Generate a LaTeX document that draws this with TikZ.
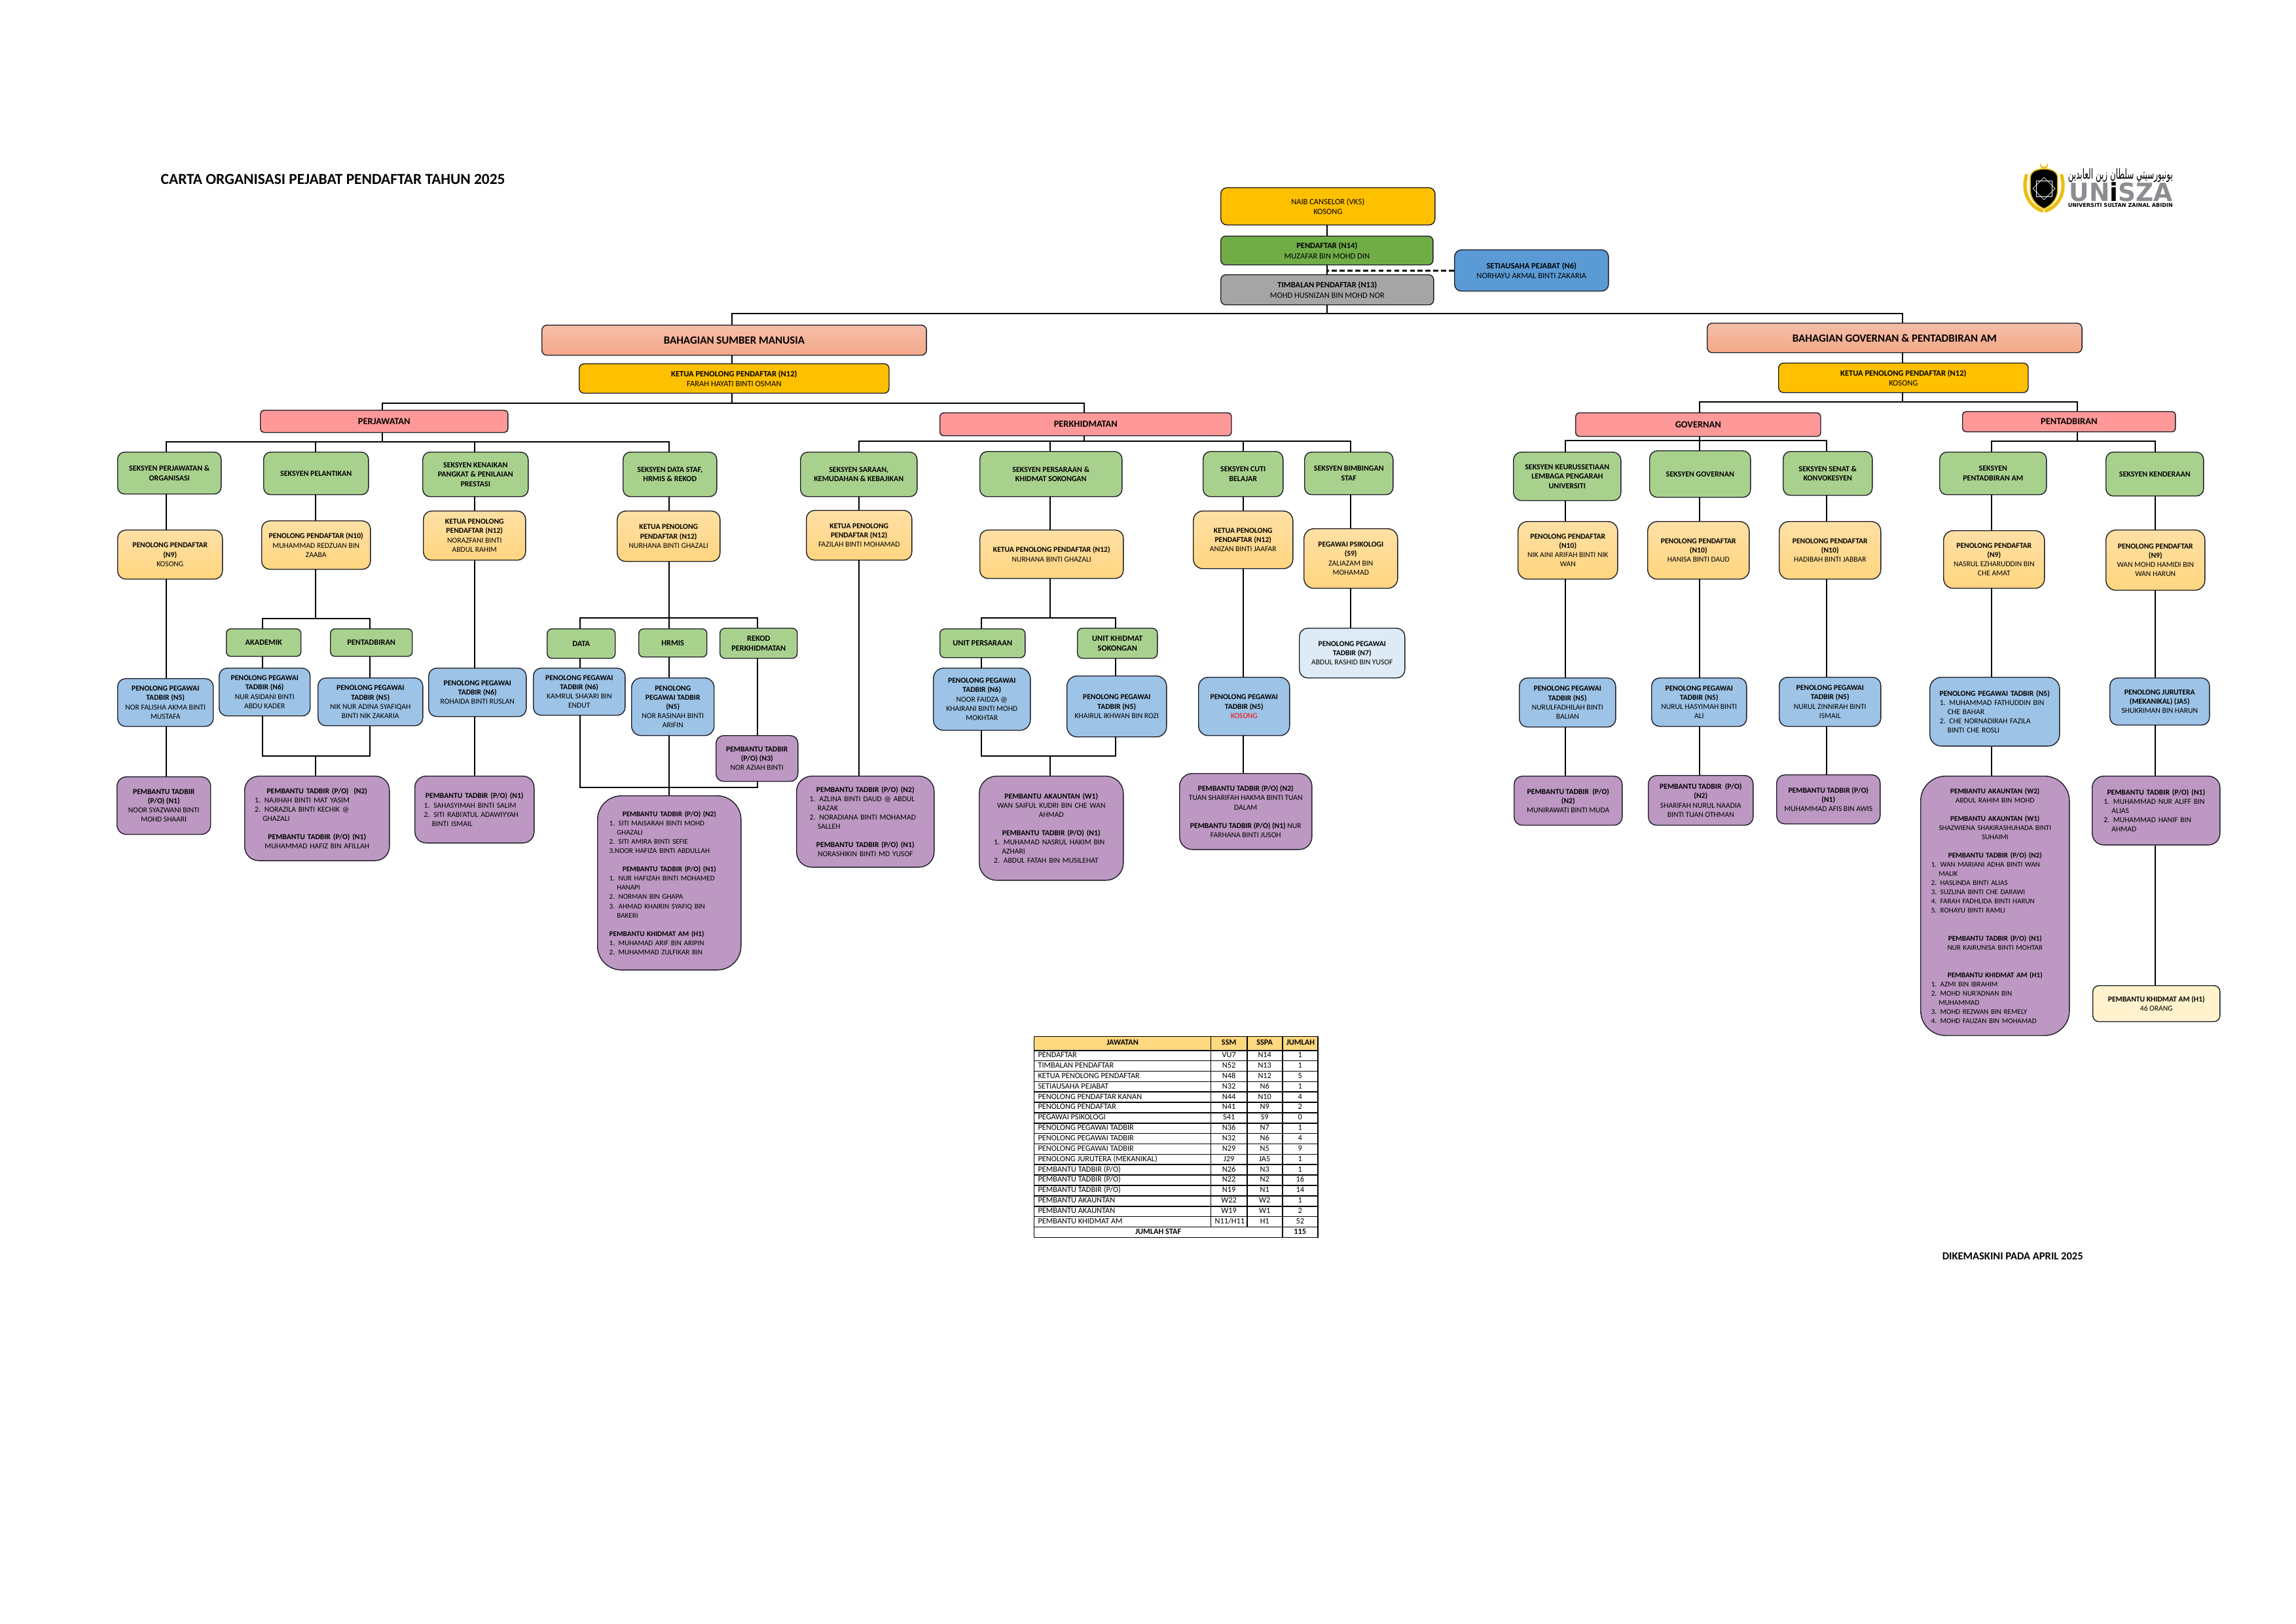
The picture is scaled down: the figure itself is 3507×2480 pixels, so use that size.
\documentclass[tikz,border=0pt]{standalone}
\usepackage[table]{xcolor}
\usepackage{array}
\usepackage{fontspec}
\setmainfont{Carlito}
\newfontfamily\logofont{DejaVu Sans}
\newfontfamily\arabicfont[Script=Arabic]{DejaVu Sans}
\TeXXeTstate=1
\usetikzlibrary{positioning,calc}
\definecolor{goldcolor}{RGB}{255,192,0}
\definecolor{greencolor}{RGB}{112,173,71}
\definecolor{greycolor}{RGB}{165,165,165}
\definecolor{bluecolor}{RGB}{91,155,213}
\definecolor{sectioncolor}{RGB}{169,209,142}
\definecolor{pinkcolor}{RGB}{255,153,153}
\definecolor{salmontop}{RGB}{245,190,168}
\definecolor{salmonbottom}{RGB}{244,168,136}
\definecolor{peachtop}{RGB}{255,224,165}
\definecolor{peachbottom}{RGB}{255,213,127}
\definecolor{skycolor}{RGB}{157,195,230}
\definecolor{palecolor}{RGB}{222,235,247}
\definecolor{purplecolor}{RGB}{188,152,194}
\definecolor{creamcolor}{RGB}{255,242,204}
\definecolor{headcolor}{RGB}{255,217,127}
\definecolor{edgecolor}{RGB}{30,30,40}
\definecolor{logogrey}{RGB}{140,140,145}
\definecolor{logogold}{RGB}{235,190,20}
\setlength{\tabcolsep}{1.5pt}
\setlength{\arrayrulewidth}{0.45pt}
\newcolumntype{L}[1]{>{\raggedright\arraybackslash}p{\dimexpr#1-2\tabcolsep-\arrayrulewidth\relax}}
\newcolumntype{C}[1]{>{\centering\arraybackslash}p{\dimexpr#1-2\tabcolsep-\arrayrulewidth\relax}}
\newcommand{\tengah}[1]{\makebox[\hsize][c]{#1}}
\newcommand{\gantung}{\hspace*{1.05em}}
\tikzset{
  kotak/.style 2 args={draw=edgecolor, line width=0.4pt, rectangle, anchor=north west,
    inner sep=0pt, align=center, minimum width=#1cm, minimum height=#2cm,
    rounded corners={0.1667*min(#1,#2)*1cm}, font=\fontsize{3.3}{4}\selectfont},
  teks atas/.style={font=\fontsize{3.55}{4.4}\selectfont},
  emas/.style={fill=goldcolor, teks atas},
  hijaugelap/.style={fill=greencolor, teks atas},
  kelabu/.style={fill=greycolor, teks atas},
  birutua/.style={fill=bluecolor, teks atas},
  bahagian/.style={top color=salmontop, bottom color=salmonbottom, font=\fontsize{4.8}{5.8}\selectfont\bfseries},
  unit/.style={fill=pinkcolor, font=\fontsize{4.1}{5}\selectfont\bfseries},
  seksyen/.style={fill=sectioncolor, font=\fontsize{3.4}{4.15}\selectfont\bfseries},
  subunit/.style={fill=sectioncolor, font=\fontsize{3.5}{4.3}\selectfont\bfseries},
  penolong/.style={top color=peachtop, bottom color=peachbottom},
  biru/.style={fill=skycolor},
  biruputih/.style={fill=palecolor},
  ungu/.style={fill=purplecolor},
  krim/.style={fill=creamcolor},
  senarai/.style={align=left, text width=#1cm},
  kecil/.style={font=\fontsize{3.15}{4}\selectfont},
  talian/.style={line width=0.45pt, black},
  bas/.style={line width=0.62pt, black},
  putus/.style={line width=0.8pt, black, dashed, dash pattern=on 2.2pt off 1.2pt}
}
\begin{document}
\begin{tikzpicture}[x=0.01cm,y=-0.01cm]
\useasboundingbox (0,0) rectangle (3507,2480);

\node[anchor=west, inner sep=0pt, font=\fontsize{6.65}{8}\selectfont\bfseries] (tajuk) at (245,274) {CARTA ORGANISASI PEJABAT PENDAFTAR TAHUN 2025};
\node[anchor=west, inner sep=0pt, font=\fontsize{4.7}{5.6}\selectfont\bfseries] (kemaskini) at (2966,1919) {DIKEMASKINI PADA APRIL 2025};

\draw[logogold, line width=1.5pt, line cap=round] (3095,268) .. controls (3088,295) and (3100,315) .. (3119,322);
\draw[logogold, line width=1.5pt, line cap=round] (3149,268) .. controls (3156,295) and (3144,315) .. (3125,322);
\draw[draw=logogold, fill=black, line width=0.5pt] (3122,258) .. controls (3135,258) and (3143,263) .. (3143,272) -- (3143,290) .. controls (3143,305) and (3132,315) .. (3122,319) .. controls (3112,315) and (3101,305) .. (3101,290) -- (3101,272) .. controls (3101,263) and (3109,258) .. (3122,258) -- cycle;
\fill[logogold] (3122,252) circle[radius=6];
\fill[white] (3122,250) circle[radius=5];
\draw[white, line width=0.2pt] (3122,271) -- (3139,288) -- (3122,305) -- (3105,288) -- cycle;
\draw[white, line width=0.2pt] (3110,276) rectangle (3134,300);
\node[anchor=north west, inner sep=0pt] (logoarab) at (3158,257) {\resizebox{1.6cm}{0.16cm}{\arabicfont\beginR يونيورسيتي سلطان زين العابدين\endR}};
\node[anchor=north west, inner sep=0pt] (logonama) at (3160,278) {\resizebox{1.58cm}{0.29cm}{\logofont\bfseries\textcolor{logogrey}{UN}i\textcolor{logogrey}{SZA}}};
\node[anchor=north west, inner sep=0pt] (logoabidin) at (3158,310) {\resizebox{1.6cm}{0.06cm}{\logofont\bfseries UNIVERSITI SULTAN ZAINAL ABIDIN}};

\node[kotak={3.27}{0.57}, emas] (naib) at (1864,286) {NAIB CANSELOR (VK5)\\KOSONG};
\node[kotak={3.24}{0.44}, hijaugelap] (pendaftar) at (1864,360) {\textbf{PENDAFTAR (N14)}\\MUZAFAR BIN MOHD DIN};
\node[kotak={3.25}{0.46}, kelabu] (timbalan) at (1864,419) {\textbf{TIMBALAN PENDAFTAR (N13)}\\MOHD HUSNIZAN BIN MOHD NOR};
\node[kotak={2.35}{0.63}, birutua] (setia) at (2221,381) {\textbf{SETIAUSAHA PEJABAT (N6)}\\NORHAYU AKMAL BINTI ZAKARIA};

\node[kotak={5.87}{0.46}, bahagian] (bSM) at (827,496) {BAHAGIAN SUMBER MANUSIA};
\node[kotak={5.72}{0.45}, bahagian] (bGov) at (2607,493) {BAHAGIAN GOVERNAN \& PENTADBIRAN AM};
\node[kotak={4.73}{0.45}, emas] (kSM) at (884,555) {\textbf{KETUA PENOLONG PENDAFTAR (N12)}\\FARAH HAYATI BINTI OSMAN};
\node[kotak={3.81}{0.45}, emas] (kGov) at (2716,554) {\textbf{KETUA PENOLONG PENDAFTAR (N12)}\\KOSONG};

\node[kotak={3.78}{0.34}, unit] (perjawatan) at (397,626) {PERJAWATAN};
\node[kotak={4.45}{0.35}, unit] (perkhidmatan) at (1435,630) {PERKHIDMATAN};
\node[kotak={3.74}{0.36}, unit] (governan) at (2406,630) {GOVERNAN};
\node[kotak={3.25}{0.31}, unit] (pentadbiran) at (2997,628) {PENTADBIRAN};

\node[kotak={1.58}{0.64}, seksyen] (s1) at (179,690) {SEKSYEN PERJAWATAN \&\\ORGANISASI};
\node[kotak={1.60}{0.65}, seksyen] (s2) at (402,690) {SEKSYEN PELANTIKAN};
\node[kotak={1.61}{0.68}, seksyen] (s3) at (645,690) {SEKSYEN KENAIKAN\\PANGKAT \& PENILAIAN\\PRESTASI};
\node[kotak={1.43}{0.68}, seksyen] (s4) at (951,690) {SEKSYEN DATA STAF,\\HRMIS \& REKOD};
\node[kotak={1.78}{0.68}, seksyen] (s5) at (1222,690) {SEKSYEN SARAAN,\\KEMUDAHAN \& KEBAJIKAN};
\node[kotak={2.17}{0.69}, seksyen] (s6) at (1496,689) {SEKSYEN PERSARAAN \&\\KHIDMAT SOKONGAN};
\node[kotak={1.22}{0.69}, seksyen] (s7) at (1837,689) {SEKSYEN CUTI\\BELAJAR};
\node[kotak={1.35}{0.65}, seksyen] (s8) at (1992,690) {SEKSYEN BIMBINGAN\\STAF};
\node[kotak={1.64}{0.74}, seksyen] (s9) at (2311,690) {SEKSYEN KEURUSSETIAAN\\LEMBAGA PENGARAH\\UNIVERSITI};
\node[kotak={1.54}{0.71}, seksyen] (s10) at (2519,688) {SEKSYEN GOVERNAN};
\node[kotak={1.36}{0.67}, seksyen] (s11) at (2723,689) {SEKSYEN SENAT \&\\KONVOKESYEN};
\node[kotak={1.63}{0.65}, seksyen] (s12) at (2962,690) {SEKSYEN\\PENTADBIRAN AM};
\node[kotak={1.49}{0.67}, seksyen] (s13) at (3216,690) {SEKSYEN KENDERAAN};

\node[kotak={1.60}{0.75}, penolong] (p1) at (179,809) {\textbf{PENOLONG PENDAFTAR}\\\textbf{(N9)}\\KOSONG};
\node[kotak={1.66}{0.74}, penolong] (p2) at (399,795) {\textbf{PENOLONG PENDAFTAR (N10)}\\MUHAMMAD REDZUAN BIN\\ZAABA};
\node[kotak={1.56}{0.75}, penolong] (p3) at (646,780) {\textbf{KETUA PENOLONG}\\\textbf{PENDAFTAR (N12)}\\NORAZFANI BINTI\\ABDUL RAHIM};
\node[kotak={1.57}{0.77}, penolong] (p4) at (942,780) {\textbf{KETUA PENOLONG}\\\textbf{PENDAFTAR (N12)}\\NURHANA BINTI GHAZALI};
\node[kotak={1.61}{0.76}, penolong] (p5) at (1231,779) {\textbf{KETUA PENOLONG}\\\textbf{PENDAFTAR (N12)}\\FAZILAH BINTI MOHAMAD};
\node[kotak={2.19}{0.74}, penolong] (p6) at (1496,809) {\textbf{KETUA PENOLONG PENDAFTAR (N12)}\\NURHANA BINTI GHAZALI};
\node[kotak={1.52}{0.88}, penolong] (p7) at (1822,780) {\textbf{KETUA PENOLONG}\\\textbf{PENDAFTAR (N12)}\\ANIZAN BINTI JAAFAR};
\node[kotak={1.43}{0.91}, penolong] (p8) at (1991,807) {\textbf{PEGAWAI PSIKOLOGI}\\\textbf{(S9)}\\ZALIAZAM BIN\\MOHAMAD};
\node[kotak={1.52}{0.88}, penolong] (p9) at (2318,796) {\textbf{PENOLONG PENDAFTAR}\\\textbf{(N10)}\\NIK AINI ARIFAH BINTI NIK\\WAN};
\node[kotak={1.55}{0.88}, penolong] (p10) at (2516,796) {\textbf{PENOLONG PENDAFTAR}\\\textbf{(N10)}\\HANISA BINTI DAUD};
\node[kotak={1.55}{0.88}, penolong] (p11) at (2717,796) {\textbf{PENOLONG PENDAFTAR}\\\textbf{(N10)}\\HADIBAH BINTI JABBAR};
\node[kotak={1.54}{0.88}, penolong] (p12) at (2968,810) {\textbf{PENOLONG PENDAFTAR}\\\textbf{(N9)}\\NASRUL EZHARUDDIN BIN\\CHE AMAT};
\node[kotak={1.51}{0.92}, penolong] (p13) at (3216,809) {\textbf{PENOLONG PENDAFTAR}\\\textbf{(N9)}\\WAN MOHD HAMIDI BIN\\WAN HARUN};

\node[kotak={1.14}{0.42}, subunit] (akademik) at (345,960) {AKADEMIK};
\node[kotak={1.25}{0.42}, subunit] (ptdbiran) at (504,960) {PENTADBIRAN};
\node[kotak={1.04}{0.45}, subunit] (data) at (835,960) {DATA};
\node[kotak={1.04}{0.43}, subunit] (hrmis) at (975,960) {HRMIS};
\node[kotak={1.18}{0.46}, subunit] (rekod) at (1099,959) {REKOD\\PERKHIDMATAN};
\node[kotak={1.30}{0.44}, subunit] (unitsara) at (1435,960) {UNIT PERSARAAN};
\node[kotak={1.22}{0.46}, subunit] (unitkhid) at (1645,959) {UNIT KHIDMAT\\SOKONGAN};

\node[kotak={1.46}{0.73}, biru] (b1) at (179,1036) {\textbf{PENOLONG PEGAWAI}\\\textbf{TADBIR (N5)}\\NOR FALISHA AKMA BINTI\\MUSTAFA};
\node[kotak={1.39}{0.73}, biru] (b2a) at (334,1020) {\textbf{PENOLONG PEGAWAI}\\\textbf{TADBIR (N6)}\\NUR ASIDANI BINTI\\ABDU KADER};
\node[kotak={1.60}{0.73}, biru] (b2b) at (485,1035) {\textbf{PENOLONG PEGAWAI}\\\textbf{TADBIR (N5)}\\NIK NUR ADINA SYAFIQAH\\BINTI NIK ZAKARIA};
\node[kotak={1.49}{0.74}, biru] (b3) at (654,1020) {\textbf{PENOLONG PEGAWAI}\\\textbf{TADBIR (N6)}\\ROHAIDA BINTI RUSLAN};
\node[kotak={1.40}{0.72}, biru] (b4a) at (814,1020) {\textbf{PENOLONG PEGAWAI}\\\textbf{TADBIR (N6)}\\KAMRUL SHA'ARI BIN\\ENDUT};
\node[kotak={1.26}{0.88}, biru] (b4b) at (964,1035) {\textbf{PENOLONG}\\\textbf{PEGAWAI TADBIR}\\\textbf{(N5)}\\NOR RASINAH BINTI\\ARIFIN};
\node[kotak={1.48}{0.95}, biru] (b6a) at (1425,1020) {\textbf{PENOLONG PEGAWAI}\\\textbf{TADBIR (N6)}\\NOOR FAIDZA @\\KHAIRANI BINTI MOHD\\MOKHTAR};
\node[kotak={1.52}{0.93}, biru] (b6b) at (1629,1032) {\textbf{PENOLONG PEGAWAI}\\\textbf{TADBIR (N5)}\\KHAIRUL IKHWAN BIN ROZI};
\node[kotak={1.39}{0.89}, biru] (b7) at (1830,1034) {\textbf{PENOLONG PEGAWAI}\\\textbf{TADBIR (N5)}\\\textcolor{red}{KOSONG}};
\node[kotak={1.61}{0.76}, biruputih] (b8) at (1984,959) {\textbf{PENOLONG PEGAWAI}\\\textbf{TADBIR (N7)}\\ABDUL RASHID BIN YUSOF};
\node[kotak={1.47}{0.75}, biru] (b9) at (2320,1035) {\textbf{PENOLONG PEGAWAI}\\\textbf{TADBIR (N5)}\\NURULFADHILAH BINTI\\BALIAN};
\node[kotak={1.45}{0.74}, biru] (b10) at (2522,1035) {\textbf{PENOLONG PEGAWAI}\\\textbf{TADBIR (N5)}\\NURUL HASYIMAH BINTI\\ALI};
\node[kotak={1.55}{0.75}, biru] (b11) at (2717,1034) {\textbf{PENOLONG PEGAWAI}\\\textbf{TADBIR (N5)}\\NURUL ZINNIRAH BINTI\\ISMAIL};
\node[kotak={1.98}{1.05}, biru, senarai=1.68] (b12) at (2947,1034) {\tengah{\textbf{PENOLONG PEGAWAI TADBIR (N5)}}\\1. MUHAMMAD FATHUDDIN BIN\\\gantung CHE BAHAR\\2. CHE NORNADIRAH FAZILA\\\gantung BINTI CHE ROSLI};
\node[kotak={1.52}{0.72}, biru] (b13) at (3222,1035) {\textbf{PENOLONG JURUTERA}\\\textbf{(MEKANIKAL) (JA5)}\\SHUKRIMAN BIN HARUN};

\node[kotak={1.25}{0.70}, ungu] (urekod) at (1093,1123) {\textbf{PEMBANTU TADBIR}\\\textbf{(P/O) (N3)}\\NOR AZIAH BINTI};
\node[kotak={1.43}{0.88}, ungu] (u1) at (178,1186) {\textbf{PEMBANTU TADBIR}\\\textbf{(P/O) (N1)}\\NOOR SYAZWANI BINTI\\MOHD SHAARI};
\node[kotak={2.21}{1.29}, ungu, senarai=1.90] (u2) at (373,1185) {\tengah{\textbf{PEMBANTU TADBIR (P/O)\ \ (N2)}}\\1. NAJIHAH BINTI MAT YASIM\\2. NORAZILA BINTI KECHIK @\\\gantung GHAZALI\\[4pt]\tengah{\textbf{PEMBANTU TADBIR (P/O) (N1)}}\\\tengah{MUHAMMAD HAFIZ BIN AFILLAH}};
\node[kotak={1.82}{1.02}, ungu, senarai=1.54] (u3) at (633,1185) {\tengah{\textbf{PEMBANTU TADBIR (P/O) (N1)}}\\1. SAHASYIMAH BINTI SALIM\\2. SITI RABI'ATUL ADAWIYYAH\\\gantung BINTI ISMAIL};
\node[kotak={2.19}{2.66}, ungu, kecil, senarai=1.83] (u4) at (912,1215) {\tengah{\textbf{PEMBANTU TADBIR (P/O) (N2)}}\\1. SITI MAISARAH BINTI MOHD\\\gantung GHAZALI\\2. SITI AMIRA BINTI SEFIE\\3.NOOR HAFIZA BINTI ABDULLAH\\[4pt]\tengah{\textbf{PEMBANTU TADBIR (P/O) (N1)}}\\1. NUR HAFIZAH BINTI MOHAMED\\\gantung HANAPI\\2. NORMAN BIN GHAPA\\3. AHMAD KHAIRIN SYAFIQ BIN\\\gantung BAKERI\\[4pt]\textbf{PEMBANTU KHIDMAT AM (H1)}\\1. MUHAMAD ARIF BIN ARIPIN\\2. MUHAMMAD ZULFIKAR BIN};
\node[kotak={2.10}{1.39}, ungu, senarai=1.70] (u5) at (1216,1185) {\tengah{\textbf{PEMBANTU TADBIR (P/O) (N2)}}\\1. AZLINA BINTI DAUD @ ABDUL\\\gantung RAZAK\\2. NORADIANA BINTI MOHAMAD\\\gantung SALLEH\\[4pt]\tengah{\textbf{PEMBANTU TADBIR (P/O) (N1)}}\\\tengah{NORASHIKIN BINTI MD YUSOF}};
\node[kotak={2.20}{1.59}, ungu, senarai=1.75] (u6) at (1495,1185) {\tengah{\textbf{PEMBANTU AKAUNTAN (W1)}}\\\tengah{WAN SAIFUL KUDRI BIN CHE WAN}\\\tengah{AHMAD}\\[4pt]\tengah{\textbf{PEMBANTU TADBIR (P/O) (N1)}}\\1. MUHAMAD NASRUL HAKIM BIN\\\gantung AZHARI\\2. ABDUL FATAH BIN MUSILEHAT};
\node[kotak={2.02}{1.16}, ungu] (u7) at (1801,1181) {\textbf{PEMBANTU TADBIR (P/O) (N2)}\\TUAN SHARIFAH HAKMA BINTI TUAN\\DALAM\\[4pt]\textbf{PEMBANTU TADBIR (P/O) (N1)} NUR\\FARHANA BINTI JUSOH};
\node[kotak={1.65}{0.75}, ungu] (u9) at (2312,1185) {\textbf{PEMBANTU TADBIR\ \ (P/O)}\\\textbf{(N2)}\\MUNIRAWATI BINTI MUDA};
\node[kotak={1.60}{0.76}, ungu] (u10) at (2517,1184) {\textbf{PEMBANTU TADBIR\ \ (P/O)}\\\textbf{(N2)}\\SHARIFAH NURUL NAADIA\\BINTI TUAN OTHMAN};
\node[kotak={1.58}{0.75}, ungu] (u11) at (2713,1183) {\textbf{PEMBANTU TADBIR (P/O)}\\\textbf{(N1)}\\MUHAMMAD AFIS BIN AWIS};
\node[kotak={2.27}{3.96}, ungu, kecil, senarai=1.95] (u12) at (2933,1185) {\tengah{\textbf{PEMBANTU AKAUNTAN (W2)}}\\\tengah{ABDUL RAHIM BIN MOHD}\\[4pt]\tengah{\textbf{PEMBANTU AKAUNTAN (W1)}}\\\tengah{SHAZWIENA SHAKIRASHUHADA BINTI}\\\tengah{SUHAIMI}\\[4pt]\tengah{\textbf{PEMBANTU TADBIR (P/O) (N2)}}\\1. WAN MARIANI ADHA BINTI WAN\\\gantung MALIK\\2. HASLINDA BINTI ALIAS\\3. SUZLINA BINTI CHE DARAWI\\4. FARAH FADHLIDA BINTI HARUN\\5. ROHAYU BINTI RAMLI\\[8pt]\tengah{\textbf{PEMBANTU TADBIR (P/O) (N1)}}\\\tengah{NUR KAIRUNISA BINTI MOHTAR}\\[8pt]\tengah{\textbf{PEMBANTU KHIDMAT AM (H1)}}\\1. AZMI BIN IBRAHIM\\2. MOHD NUR'ADNAN BIN\\\gantung MUHAMMAD\\3. MOHD REZWAN BIN REMELY\\4. MOHD FAUZAN BIN MOHAMAD};
\node[kotak={1.95}{1.05}, ungu, senarai=1.60] (u13) at (3195,1185) {\tengah{\textbf{PEMBANTU TADBIR (P/O) (N1)}}\\1. MUHAMMAD NUR ALIFF BIN\\\gantung ALIAS\\2. MUHAMMAD HANIF BIN\\\gantung AHMAD};
\node[kotak={1.94}{0.55}, krim] (hk) at (3196,1505) {\textbf{PEMBANTU KHIDMAT AM (H1)}\\46 ORANG};

\node[anchor=north west, inner sep=0pt, font=\fontsize{3.5}{4.06}\selectfont] (jadual) at (1578,1582) {%
\begin{tabular}{|L{2.70cm}|C{0.55cm}|C{0.54cm}|C{0.54cm}|}
\hline
\rowcolor{headcolor}\multicolumn{1}{|c|}{\rule[-2pt]{0pt}{5.6pt}\textbf{JAWATAN}} & \textbf{SSM} & \textbf{SSPA} & \textbf{JUMLAH}\\ \hline
PENDAFTAR & VU7 & N14 & 1\\ \hline
TIMBALAN PENDAFTAR & N52 & N13 & 1\\ \hline
KETUA PENOLONG PENDAFTAR & N48 & N12 & 5\\ \hline
SETIAUSAHA PEJABAT & N32 & N6 & 1\\ \hline
PENOLONG PENDAFTAR KANAN & N44 & N10 & 4\\ \hline
PENOLONG PENDAFTAR & N41 & N9 & 2\\ \hline
PEGAWAI PSIKOLOGI & S41 & S9 & 0\\ \hline
PENOLONG PEGAWAI TADBIR & N36 & N7 & 1\\ \hline
PENOLONG PEGAWAI TADBIR & N32 & N6 & 4\\ \hline
PENOLONG PEGAWAI TADBIR & N29 & N5 & 9\\ \hline
PENOLONG JURUTERA (MEKANIKAL) & J29 & JA5 & 1\\ \hline
PEMBANTU TADBIR (P/O) & N26 & N3 & 1\\ \hline
PEMBANTU TADBIR (P/O) & N22 & N2 & 16\\ \hline
PEMBANTU TADBIR (P/O) & N19 & N1 & 14\\ \hline
PEMBANTU AKAUNTAN & W22 & W2 & 1\\ \hline
PEMBANTU AKAUNTAN & W19 & W1 & 2\\ \hline
PEMBANTU KHIDMAT AM & \mbox{N11/H11} & H1 & 52\\ \hline
\multicolumn{3}{|c|}{\textbf{JUMLAH STAF}} & \textbf{115}\\ \hline
\end{tabular}};

\coordinate (xUtama) at (2027,0);
\coordinate (xSM) at (1118,0);
\coordinate (xGov) at (2906,0);
\coordinate (x1) at (254,0);
\coordinate (x2) at (482,0);
\coordinate (x3) at (725,0);
\coordinate (x4) at (1022,0);
\coordinate (x5) at (1312,0);
\coordinate (x6) at (1604,0);
\coordinate (x7) at (1899,0);
\coordinate (x8) at (2063,0);
\coordinate (x9) at (2391,0);
\coordinate (x10) at (2596,0);
\coordinate (x11) at (2790,0);
\coordinate (x12) at (3042,0);
\coordinate (x13) at (3292,0);
\coordinate (xAka) at (401,0);
\coordinate (xPtd) at (565,0);
\coordinate (xData) at (886,0);
\coordinate (xRekod) at (1157,0);
\coordinate (xSara) at (1499,0);
\coordinate (xKhid) at (1704,0);
\coordinate (basUtama) at (2027,479);
\coordinate (basSM) at (1118,616);
\coordinate (basPerj) at (584,675);
\coordinate (basPerk) at (1656,674);
\coordinate (basGov) at (2906,614);
\coordinate (basGovn) at (2596,673);
\coordinate (basPent) at (3173,674);
\coordinate (basSub2) at (482,945);
\coordinate (basBwh2) at (482,1155);
\coordinate (basSub4) at (1022,944);
\coordinate (basBwh4) at (1022,1203);
\coordinate (basSub6) at (1604,944);
\coordinate (basBwh6) at (1604,1155);

\foreach \a/\b/\c in {xUtama/naib/pendaftar, xSM/bSM/kSM, xGov/bGov/kGov,
    x1/s1/p1, x1/p1/b1, x1/b1/u1, x2/s2/p2, x3/s3/p3, x3/p3/b3, x3/b3/u3,
    x4/s4/p4, x4/hrmis/b4b, x4/b4b/u4, x5/s5/p5, x5/p5/u5, x6/s6/p6,
    x7/s7/p7, x7/p7/b7, x7/b7/u7, x8/s8/p8, x8/p8/b8,
    x9/s9/p9, x9/p9/b9, x9/b9/u9, x10/s10/p10, x10/p10/b10, x10/b10/u10,
    x11/s11/p11, x11/p11/b11, x11/b11/u11, x12/s12/p12, x12/p12/b12, x12/b12/u12,
    x13/s13/p13, x13/p13/b13, x13/b13/u13, x13/u13/hk,
    xAka/akademik/b2a, xPtd/ptdbiran/b2b, xData/data/b4a, xRekod/rekod/urekod,
    xSara/unitsara/b6a, xKhid/unitkhid/b6b}
  \draw[talian] (\a |- \b.south) -- (\a |- \c.north);

\draw[bas] (xUtama |- pendaftar.south) -- (xUtama |- timbalan.north);
\draw[putus] (setia.west) -- (setia.west -| xUtama);
\draw[bas] (xUtama |- timbalan.south) -- (basUtama);
\draw[bas] (xSM |- bSM.north) |- (basUtama) -| (xGov |- bGov.north);

\draw[talian] (xSM |- kSM.south) -- (basSM);
\draw[bas] (perjawatan.north -| basPerj) |- (basSM) -| (perkhidmatan.north -| basPerk);
\draw[talian] (perjawatan.south -| basPerj) -- (basPerj);
\draw[bas] (x1 |- s1.north) |- (basPerj) -| (x4 |- s4.north);
\draw[talian] (x2 |- basPerj) -- (x2 |- s2.north);
\draw[talian] (x3 |- basPerj) -- (x3 |- s3.north);
\draw[talian] (perkhidmatan.south -| basPerk) -- (basPerk);
\draw[bas] (x5 |- s5.north) |- (basPerk) -| (x8 |- s8.north);
\draw[talian] (x6 |- basPerk) -- (x6 |- s6.north);
\draw[talian] (x7 |- basPerk) -- (x7 |- s7.north);

\draw[talian] (xGov |- kGov.south) -- (basGov);
\draw[bas] (governan.north -| basGovn) |- (basGov) -| (pentadbiran.north -| basPent);
\draw[talian] (governan.south -| basGovn) -- (basGovn);
\draw[bas] (x9 |- s9.north) |- (basGovn) -| (x11 |- s11.north);
\draw[talian] (basGovn) -- (x10 |- s10.north);
\draw[talian] (pentadbiran.south -| basPent) -- (basPent);
\draw[bas] (x12 |- s12.north) |- (basPent) -| (x13 |- s13.north);

\draw[talian] (x2 |- p2.south) -- (basSub2);
\draw[bas] (xAka |- akademik.north) |- (basSub2) -| (xPtd |- ptdbiran.north);
\draw[bas] (xAka |- b2a.south) |- (basBwh2) -| (xPtd |- b2b.south);
\draw[talian] (basBwh2) -- (x2 |- u2.north);

\draw[talian] (x4 |- p4.south) -- (x4 |- hrmis.north);
\draw[bas] (xData |- data.north) |- (basSub4) -| (xRekod |- rekod.north);
\draw[bas] (xData |- b4a.south) |- (basBwh4) -| (xRekod |- urekod.south);

\draw[talian] (x6 |- p6.south) -- (basSub6);
\draw[bas] (xSara |- unitsara.north) |- (basSub6) -| (xKhid |- unitkhid.north);
\draw[bas] (xSara |- b6a.south) |- (basBwh6) -| (xKhid |- b6b.south);
\draw[talian] (basBwh6) -- (x6 |- u6.north);
\end{tikzpicture}
\end{document}
